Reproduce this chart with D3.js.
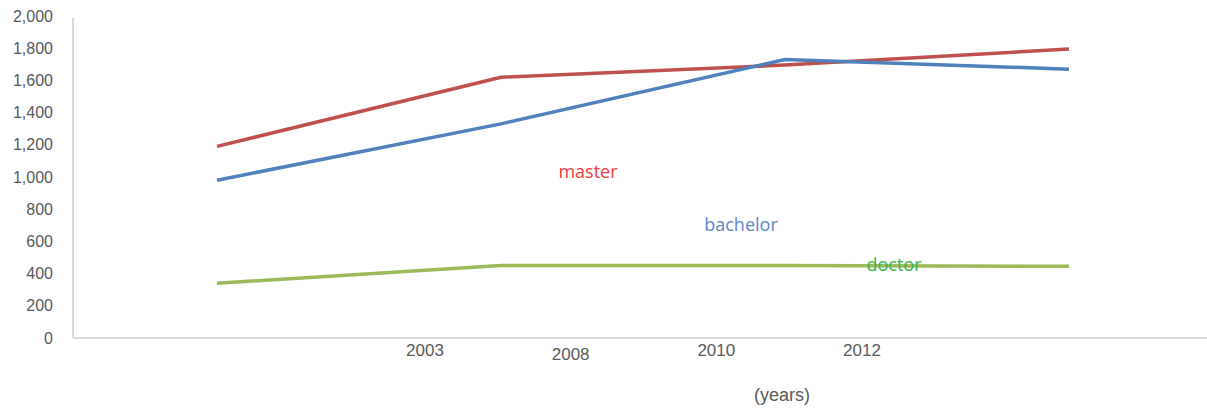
<!DOCTYPE html>
<html lang="en">
<head>
    <meta charset="utf-8">
    <style type="text/css">
        body { margin: 0; background: #fff; }
        .axis-line { stroke: #d9d9d9; stroke-width: 2px; }
        .tick-label { font-family: "Liberation Sans", sans-serif; font-size: 16px; fill: #595959; }
        .xtick, .xtitle { font-size: 17px; }
        .xtitle { font-size: 18px; }
        .series { fill: none; stroke-width: 3.5px; stroke-linejoin: round; }
        .series-label { font-family: "Open Sans", sans-serif; font-size: 18px; }
    </style>
</head>
<body>
<svg width="1207" height="408"></svg>

<script src="https://d3js.org/d3.v7.min.js"></script>
<script type="text/javascript">
    // values
    var years = ["2003", "2008", "2010", "2012"];
    var master = [1190, 1620, 1695, 1795];
    var bachelor = [980, 1330, 1730, 1670];
    var doctor = [340, 450, 450, 445];
    var yTicks = [0, 200, 400, 600, 800, 1000, 1200, 1400, 1600, 1800, 2000];

    var series = [
        { name: "master", values: master, color: "#c0504d", labelColor: "#f03c3c", lx: 588, ly: 178 },
        { name: "bachelor", values: bachelor, color: "#4f81bd", labelColor: "#5b87c9", lx: 741, ly: 231 },
        { name: "doctor", values: doctor, color: "#9bbb59", labelColor: "#3cb44b", lx: 894, ly: 271 }
    ];

    var svg = d3.select("svg");

    var x = d3.scalePoint().domain(years).range([217, 1069]);
    // the year labels sit apart from the data points in the original
    var xLabel = d3.scalePoint().domain(years).range([425, 862]);
    var labelDy = { "2003": 0, "2008": 4, "2010": 0, "2012": 0 };
    var y = d3.scaleLinear().domain([0, 2000]).range([338, 16]);

    // axes
    svg.append("line").attr("class", "axis-line")
        .attr("x1", 73).attr("x2", 73).attr("y1", 18).attr("y2", y(0));
    svg.append("line").attr("class", "axis-line")
        .attr("x1", 73).attr("x2", 1207).attr("y1", y(0)).attr("y2", y(0));

    svg.selectAll(".ytick")
        .data(yTicks)
        .enter()
        .append("text")
        .attr("class", "tick-label ytick")
        .attr("x", 53)
        .attr("y", function (d) {return y(d);})
        .attr("dy", "0.35em")
        .attr("text-anchor", "end")
        .text(function (d) {return d3.format(",")(d);});

    svg.selectAll(".xtick")
        .data(years)
        .enter()
        .append("text")
        .attr("class", "tick-label xtick")
        .attr("x", function (d) {return xLabel(d);})
        .attr("y", function (d) {return 356 + labelDy[d];})
        .attr("text-anchor", "middle")
        .text(function (d) {return d;});

    svg.append("text")
        .attr("class", "tick-label xtitle")
        .attr("x", 782).attr("y", 401)
        .attr("text-anchor", "middle")
        .text("(years)");

    var line = d3.line()
        .x(function (d, i) {return x(years[i]);})
        .y(function (d) {return y(d);});

    svg.selectAll(".series")
        .data(series)
        .enter()
        .append("path")
        .attr("class", "series")
        .attr("stroke", function (d) {return d.color;})
        .attr("d", function (d) {return line(d.values);});

    svg.selectAll(".series-label")
        .data(series)
        .enter()
        .append("text")
        .attr("class", "series-label")
        .attr("x", function (d) {return d.lx;})
        .attr("y", function (d) {return d.ly;})
        .attr("text-anchor", "middle")
        .attr("fill", function (d) {return d.labelColor;})
        .text(function (d) {return d.name;});
</script>
</body>
</html>
